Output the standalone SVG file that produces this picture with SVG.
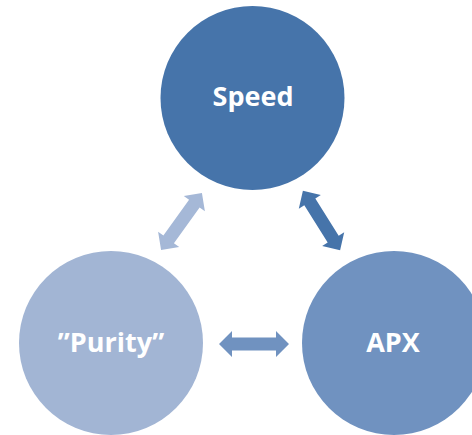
<svg xmlns="http://www.w3.org/2000/svg" width="472" height="435" viewBox="0 0 472 435">
<defs>
<style>
.lbl{font-family:"Open Sans","DejaVu Sans",sans-serif;font-weight:700;font-size:27px;fill:#ffffff;text-anchor:middle}
</style>
<path id="dbl" d="M-35,0 L-22,-13 L-22,-6.5 L22,-6.5 L22,-13 L35,0 L22,13 L22,6.5 L-22,6.5 L-22,13 Z"/>
</defs>
<rect width="472" height="435" fill="#ffffff"/>
<g id="connectors">
<use href="#dbl" fill="#A5B8D7" transform="translate(181.5,221.5) rotate(-54.3)"/>
<use href="#dbl" fill="#4674AA" transform="translate(321.5,220.5) rotate(57.9)"/>
<use href="#dbl" fill="#7092C0" transform="translate(254,344)"/>
</g>
<g id="speed">
<circle cx="252.5" cy="98" r="92" fill="#4674AA"/>
<text class="lbl" x="253" y="106">Speed</text>
</g>
<g id="purity">
<circle cx="111" cy="343" r="92" fill="#A2B5D4"/>
<text class="lbl" x="111" y="352">”Purity”</text>
</g>
<g id="apx">
<circle cx="394" cy="343" r="92" fill="#7092C0"/>
<text class="lbl" x="393" y="352">APX</text>
</g>
</svg>
